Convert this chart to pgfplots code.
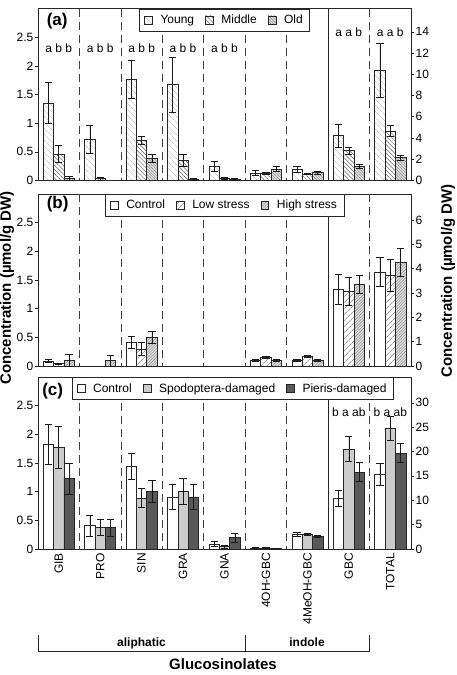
\documentclass[border=0pt]{standalone}
\usepackage{pgfplots}
\pgfplotsset{compat=1.18}
\usepackage{fontspec}
\setmainfont{Liberation Sans}
\usetikzlibrary{patterns.meta}
\newcommand\myfs[1]{\fontsize{#1}{#1}\selectfont}

\pgfplotsset{
 panel/.style={
   scale only axis, width=373pt, height=172pt,
   xmin=-0.5, xmax=8.5, ymin=0,
   ybar=0pt, bar width=10.36pt,
   axis line style={black!85, line width=0.7pt},
   tick align=outside, major tick length=3pt,
   tick style={black!85, line width=0.6pt},
   /pgf/number format/assume math mode=true,
   tick label style={font=\myfs{12}},
   xtick=\empty,
   legend style={at={(0.5,1)}, anchor=north, legend columns=-1, draw=black!85, line width=0.6pt,
     font=\myfs{12}, inner xsep=5pt, inner ysep=4pt,
     /tikz/every odd column/.append style={column sep=6pt},
     /tikz/every even column/.append style={column sep=9pt}},
 },
 leftax/.style={panel, ymax=3, ytick={0,0.5,1,1.5,2,2.5}, ytick pos=left,
   yticklabel style={inner sep=1.5pt}},
 rightax/.style={panel, axis x line=none, axis y line*=right,
   yticklabel style={inner sep=1.5pt}},
 eb/.style={error bars/.cd, y dir=both, y explicit,
   error bar style={black!90, line width=0.6pt},
   error mark options={rotate=90, mark size=3.6pt, line width=0.6pt, black!90}},
 barbase/.style={draw=black!85, line width=0.6pt,
   legend image code/.code={\draw[##1, draw=black!85, line width=0.5pt] (0pt,-3.9pt) rectangle (7.8pt,3.9pt);}},
 young/.style={barbase, fill=white, postaction={pattern={Lines[angle=-45,distance=4pt,line width=0.4pt]}, pattern color=black!30}},
 middle/.style={barbase, fill=white, postaction={pattern={Lines[angle=-45,distance=3pt,line width=0.5pt]}, pattern color=black!60}},
 old/.style={barbase, fill=black!12, postaction={pattern={Lines[angle=-45,distance=2pt,line width=0.4pt]}, pattern color=black!50}},
 ctrl/.style={barbase, fill=white},
 low/.style={barbase, fill=white, postaction={pattern={Lines[angle=45,distance=4pt,line width=0.5pt]}, pattern color=black!60}},
 high/.style={barbase, fill=black!12, postaction={pattern={Lines[angle=45,distance=2pt,line width=0.4pt]}, pattern color=black!50}},
 spod/.style={barbase, fill=black!20},
 pier/.style={barbase, fill=black!65},
}
\tikzset{sepd/.style={black!75, line width=0.6pt, dash pattern=on 8pt off 5pt},
         seps/.style={black!85, line width=0.7pt}}
\newcommand\seps{%
 \draw[sepd] (axis cs:0.5,3) -- (axis cs:0.5,0);
 \draw[sepd] (axis cs:1.5,3) -- (axis cs:1.5,0);
 \draw[sepd] (axis cs:2.5,3) -- (axis cs:2.5,0);
 \draw[sepd] (axis cs:3.5,3) -- (axis cs:3.5,0);
 \draw[sepd] (axis cs:4.5,3) -- (axis cs:4.5,0);
 \draw[sepd] (axis cs:5.5,3) -- (axis cs:5.5,0);
 \draw[seps] (axis cs:6.5,3) -- (axis cs:6.5,0);
 \draw[sepd] (axis cs:7.5,3) -- (axis cs:7.5,0);
}

\begin{document}
\begin{tikzpicture}
\useasboundingbox (0,0) rectangle (457pt,-675pt);

% ---------------- Panel (a)
\begin{axis}[leftax, at={(38pt,-8.5pt)}, anchor=north west]
\seps
\addplot[young, eb] coordinates {
 (0,1.35) +- (0,0.36) (1,0.72) +- (0,0.24) (2,1.77) +- (0,0.33) (3,1.67) +- (0,0.48)
 (4,0.25) +- (0,0.09) (5,0.13) +- (0,0.04) (6,0.19) +- (0,0.05)};
\addlegendentry{Young}
\addplot[middle, eb] coordinates {
 (0,0.46) +- (0,0.15) (1,0.03) +- (0,0.03) (2,0.70) +- (0,0.07) (3,0.35) +- (0,0.10)
 (4,0.04) +- (0,0.02) (5,0.12) +- (0,0.02) (6,0.11) +- (0,0.01)};
\addlegendentry{Middle}
\addplot[old, eb] coordinates {
 (0,0.03) +- (0,0.045) (2,0.38) +- (0,0.07) (3,0.02) +- (0,0.01)
 (4,0.02) +- (0,0.01) (5,0.20) +- (0,0.04) (6,0.135) +- (0,0.03)};
\addlegendentry{Old}
\node[anchor=west, font=\bfseries\myfs{17}] at (rel axis cs:0.014,0.925) {(a)};
\node[font=\myfs{12}] at (axis cs:0,2.30) {a b b};
\node[font=\myfs{12}] at (axis cs:1,2.30) {a b b};
\node[font=\myfs{12}] at (axis cs:2,2.30) {a b b};
\node[font=\myfs{12}] at (axis cs:3,2.30) {a b b};
\node[font=\myfs{12}] at (axis cs:4,2.30) {a b b};
\node[font=\myfs{12}] at (axis cs:7,2.58) {a a b};
\node[font=\myfs{12}] at (axis cs:8,2.58) {a a b};
\end{axis}
\begin{axis}[rightax, at={(38pt,-8.5pt)}, anchor=north west, ymax=16.2, ytick={0,2,...,14}]
\addplot[young, eb] coordinates {(7,4.22) +- (0,1.1) (8,10.34) +- (0,2.55)};
\addplot[middle, eb] coordinates {(7,2.81) +- (0,0.34) (8,4.66) +- (0,0.5)};
\addplot[old, eb] coordinates {(7,1.32) +- (0,0.19) (8,2.14) +- (0,0.25)};
\end{axis}

% ---------------- Panel (b)
\begin{axis}[leftax, at={(38pt,-194pt)}, anchor=north west]
\seps
\addplot[ctrl, eb] coordinates {
 (0,0.09) +- (0,0.03) (2,0.41) +- (0,0.10) (5,0.105) +- (0,0.02) (6,0.10) +- (0,0.02)};
\addlegendentry{Control}
\addplot[low, eb] coordinates {
 (0,0.04) +- (0,0.01) (2,0.30) +- (0,0.11) (5,0.15) +- (0,0.02) (6,0.165) +- (0,0.02)};
\addlegendentry{Low stress}
\addplot[high, eb] coordinates {
 (0,0.10) +- (0,0.10) (1,0.095) +- (0,0.10) (2,0.50) +- (0,0.10) (5,0.10) +- (0,0.01) (6,0.10) +- (0,0.01)};
\addlegendentry{High stress}
\node[anchor=west, font=\bfseries\myfs{17}] at (rel axis cs:0.014,0.94) {(b)};
\end{axis}
\begin{axis}[rightax, at={(38pt,-194pt)}, anchor=north west, ymax=7.07, ytick={0,1,...,6}]
\addplot[ctrl, eb] coordinates {(7,3.15) +- (0,0.6) (8,3.86) +- (0,0.6)};
\addplot[low, eb] coordinates {(7,3.08) +- (0,0.57) (8,3.73) +- (0,0.65)};
\addplot[high, eb] coordinates {(7,3.36) +- (0,0.38) (8,4.27) +- (0,0.57)};
\end{axis}

% ---------------- Panel (c)
\begin{axis}[leftax, at={(38pt,-377pt)}, anchor=north west,
  legend style={at={(0.522,1)}},
  xtick={0,...,8}, xticklabels={GIB,PRO,SIN,GRA,GNA,4OH-GBC,4MeOH-GBC,GBC,TOTAL},
  x tick style={draw=none}, x tick label style={rotate=90, anchor=east, inner sep=1pt}]
\seps
\addplot[ctrl, eb] coordinates {
 (0,1.83) +- (0,0.35) (1,0.41) +- (0,0.18) (2,1.44) +- (0,0.23) (3,0.91) +- (0,0.21)
 (4,0.09) +- (0,0.05) (5,0.02) +- (0,0.005) (6,0.26) +- (0,0.03)};
\addlegendentry{Control}
\addplot[spod, eb] coordinates {
 (0,1.77) +- (0,0.37) (1,0.38) +- (0,0.14) (2,0.89) +- (0,0.17) (3,1.01) +- (0,0.23)
 (4,0.04) +- (0,0.02) (5,0.02) +- (0,0.005) (6,0.26) +- (0,0.02)};
\addlegendentry{Spodoptera-damaged}
\addplot[pier, eb] coordinates {
 (0,1.23) +- (0,0.27) (1,0.37) +- (0,0.15) (2,1.00) +- (0,0.19) (3,0.91) +- (0,0.22)
 (4,0.20) +- (0,0.08) (5,0.015) +- (0,0.005) (6,0.22) +- (0,0.02)};
\addlegendentry{Pieris-damaged}
\node[anchor=west, font=\bfseries\myfs{17}] at (rel axis cs:0.002,0.92) {(c)};
\node[font=\myfs{12}] at (axis cs:7,2.39) {b a ab};
\node[font=\myfs{12}] at (axis cs:8,2.39) {b a ab};
\end{axis}
\begin{axis}[rightax, at={(38pt,-377pt)}, anchor=north west, ymax=35.3, ytick={0,5,...,30}]
\addplot[ctrl, eb] coordinates {(7,10.4) +- (0,1.7) (8,15.3) +- (0,2.3)};
\addplot[spod, eb] coordinates {(7,20.5) +- (0,2.6) (8,24.8) +- (0,2.4)};
\addplot[pier, eb] coordinates {(7,15.8) +- (0,2.0) (8,19.7) +- (0,1.9)};
\end{axis}

% ---------------- labels
\node[rotate=90, font=\bfseries\myfs{15}] at (7pt,-288pt) {Concentration (µmol/g DW)};
\node[rotate=90, font=\bfseries\myfs{15}] at (448pt,-281pt) {Concentration (µmol/g DW)};
\draw[black!85, line width=0.7pt] (38pt,-635pt) -- (38pt,-651pt) -- (369pt,-651pt) -- (369pt,-635pt);
\draw[black!85, line width=0.7pt] (245pt,-635pt) -- (245pt,-651pt);
\node[font=\bfseries\myfs{12}, anchor=base] at (141.5pt,-646pt) {aliphatic};
\node[font=\bfseries\myfs{12}, anchor=base] at (307pt,-646pt) {indole};
\node[font=\bfseries\myfs{15}] at (223pt,-664pt) {Glucosinolates};
\end{tikzpicture}
\end{document}
